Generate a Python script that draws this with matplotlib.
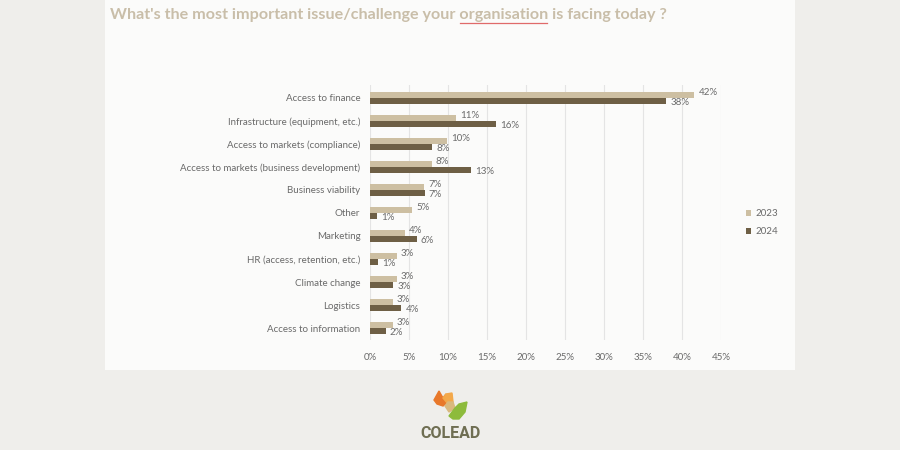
import matplotlib
matplotlib.use("Agg")
import matplotlib.pyplot as plt
from matplotlib.patches import Rectangle, Polygon
import numpy as np

# survey data (share of respondents)
categories = [
    "Access to finance",
    "Infrastructure (equipment, etc.)",
    "Access to markets (compliance)",
    "Access to markets (business development)",
    "Business viability",
    "Other",
    "Marketing",
    "HR (access, retention, etc.)",
    "Climate change",
    "Logistics",
    "Access to information",
]
vals_2023 = [41.6, 11.0, 9.9, 7.9, 6.9, 5.4, 4.5, 3.4, 3.4, 2.9, 2.9]
vals_2024 = [38.0, 16.1, 8.0, 13.0, 7.0, 0.9, 6.0, 1.0, 3.0, 4.0, 2.0]
labels_2023 = ["42%", "11%", "10%", "8%", "7%", "5%", "4%", "3%", "3%", "3%", "3%"]
labels_2024 = ["38%", "16%", "8%", "13%", "7%", "1%", "6%", "1%", "3%", "4%", "2%"]
xticks = [0, 5, 10, 15, 20, 25, 30, 35, 40, 45]

c23 = "#cdbfa2"
c24 = "#6e5f45"
txt = "#6a6a6a"
plt.rcParams["font.family"] = ["Lato", "DejaVu Sans"]

fig = plt.figure(figsize=(9, 4.5), dpi=100)
fig.patch.set_facecolor("#efeeeb")
# white slide panel
fig.patches.append(Rectangle((105 / 900, 1 - 370 / 450), 690 / 900, 370 / 450,
                             transform=fig.transFigure, facecolor="#fbfbfa",
                             edgecolor="none", zorder=-5))

tsize = 11.6
title = fig.text(110 / 900, 1 - 15 / 450,
                 "What's the most important issue/challenge your organisation is facing today ?",
                 fontsize=tsize, fontweight="bold", color="#c9bea9", va="center", ha="left")

ax = fig.add_axes([370 / 900, 1 - 340 / 450, 351 / 900, 255 / 450])
ax.set_facecolor("none")
y = np.arange(len(categories))
h = 0.27
ax.barh(y - h / 2, vals_2023, height=h, color=c23, label="2023", zorder=2)
ax.barh(y + h / 2, vals_2024, height=h, color=c24, label="2024", zorder=2)

for i in range(len(categories)):
    ax.annotate(labels_2023[i], (vals_2023[i], y[i] - h / 2), xytext=(3, 2),
                textcoords="offset points", fontsize=7, color=txt, va="center")
    ax.annotate(labels_2024[i], (vals_2024[i], y[i] + h / 2), xytext=(3, -1),
                textcoords="offset points", fontsize=7, color=txt, va="center")

ax.set_xlim(0, 45)
ax.set_ylim(len(categories) - 0.48, -0.56)
ax.set_xticks(xticks)
ax.set_xticklabels([f"{t}%" for t in xticks])
ax.set_yticks(y)
ax.set_yticklabels(categories)
ax.tick_params(axis="both", length=0, labelsize=7, labelcolor=txt)
ax.tick_params(axis="x", pad=9)
ax.tick_params(axis="y", pad=7)
ax.grid(axis="x", color="#e4e4e4", lw=0.8, zorder=0)
for s in ax.spines.values():
    s.set_visible(False)

leg = ax.legend(loc="center left", bbox_to_anchor=(1.045, 0.46), frameon=False,
                fontsize=7, handlelength=0.6, handleheight=0.6,
                handletextpad=0.4, labelspacing=0.95)
for t in leg.get_texts():
    t.set_color(txt)

# red spell-check underline under "organisation"
fig.canvas.draw()
r = fig.canvas.get_renderer()
full = title.get_text()
pre = full[:full.index("organisation")]
probe = fig.text(0, 0, pre, fontsize=tsize, fontweight="bold")
x0 = 110 + probe.get_window_extent(r).width
probe.set_text(pre + "organisation")
x1 = 110 + probe.get_window_extent(r).width
probe.remove()
fig.lines.append(plt.Line2D([(x0 + 1) / 900, (x1 - 1) / 900], [1 - 23 / 450, 1 - 23 / 450],
                            transform=fig.transFigure, color="#e06a6a", lw=0.9))

# logo
lax = fig.add_axes([415 / 900, 0, 70 / 900, 65 / 450])
lax.set_xlim(0, 70)
lax.set_ylim(0, 65)
lax.axis("off")
lax.add_patch(Polygon([[19, 50], [24, 59], [28, 52], [31, 56], [33, 48], [28, 44], [22, 46]],
                      closed=True, color="#e8782a"))
lax.add_patch(Polygon([[28, 52], [31, 56], [37, 57], [38, 48], [33, 46]],
                      closed=True, color="#f3a84a"))
lax.add_patch(Polygon([[30, 44], [33, 48], [38, 48], [40, 42], [34, 38]],
                      closed=True, color="#d9b97e"))
lax.add_patch(Polygon([[34, 34], [40, 42], [44, 46], [52, 48], [50, 38], [44, 31], [38, 31]],
                      closed=True, color="#8dbb3c"))
lax.text(36, 17, "COLEAD", ha="center", va="center", fontsize=11.5,
         fontweight="bold", color="#6f6e52", family=["Roboto", "DejaVu Sans"])

fig.savefig("out.png", dpi=100, facecolor=fig.get_facecolor())
